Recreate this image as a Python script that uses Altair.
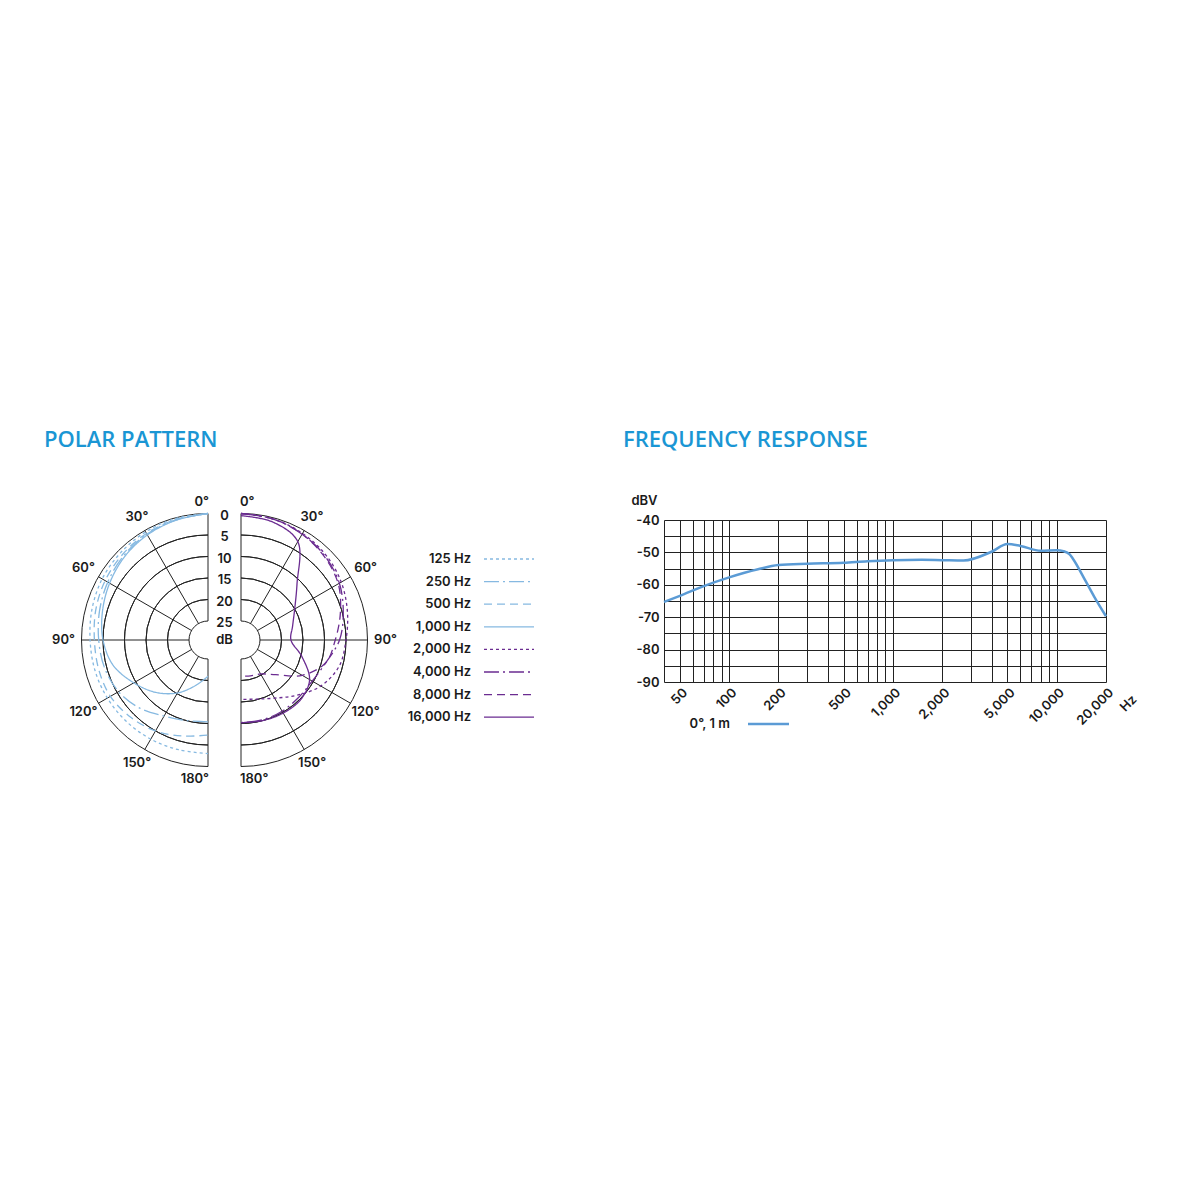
import altair as alt
import pandas as pd

# ---------------- data ----------------
POLAR_ANGLES = [0, 15, 30, 45, 60, 75, 90, 105, 120, 135, 150, 165, 180]

LOW_SERIES = ["125 Hz", "250 Hz", "500 Hz", "1,000 Hz"]
HIGH_SERIES = ["2,000 Hz", "4,000 Hz", "8,000 Hz", "16,000 Hz"]

# attenuation in dB (0 = outer ring) at POLAR_ANGLES
DB_125 = [0, 0.2, 0.4, 0.7, 1.0, 1.5, 2.0, 2.2, 2.4, 2.6, 2.8, 3.0, 3.0]
DB_250 = [0, 0.5, 1.0, 1.7, 2.5, 3.3, 4.0, 4.5, 5.4, 7.0, 9.0, 10.0, 10.4]
DB_500 = [0, 0.4, 0.8, 1.3, 1.8, 2.4, 3.0, 3.1, 3.2, 4.0, 5.0, 6.3, 7.3]
DB_1000 = [0, 0.6, 1.2, 2.0, 3.0, 4.0, 5.0, 6.6, 9.5, 12.2, 15.2, 18.5, 21.0]

DB_2000 = [0, 0.3, 0.8, 1.5, 2.5, 3.8, 5.0, 5.8, 8.0, 11.2, 13.8, 15.2, 15.6]
DB_4000 = [0, 0.3, 1.0, 1.8, 3.0, 4.8, 6.5, 9.0, 10.3, 10.5, 10.3, 10.2, 10.2]
DB_8000 = [0, 0.3, 1.0, 2.0, 3.3, 5.5, 7.5, 9.0, 13.0, 18.0, 20.3, 20.8, 21.0]
DB_16000 = [0.5, 1.0, 3.0, 11.0, 15.0, 17.0, 17.8, 14.8, 11.0, 9.8, 9.8, 10.0, 10.2]

RING_DB = [0, 5, 10, 15, 20, 25]
SPOKE_ANGLES = [30, 60, 90, 120, 150]
LABEL_ANGLES = [0, 30, 60, 90, 120, 150, 180]

FREQ_HZ = [40, 50, 70, 100, 150, 200, 300, 500, 700, 1000, 1500, 2000, 2700,
           4000, 5000, 6000, 8000, 10000, 11000, 12000, 12500, 15000, 17000, 20000]
FREQ_DBV = [-65.3, -63.4, -60.4, -57.7, -55.2, -53.9, -53.5, -53.2, -52.7, -52.4, -52.3, -52.4, -52.5,
            -49.8, -47.4, -48.0, -49.5, -49.3, -49.6, -50.6, -51.8, -58.8, -63.8, -69.7]
FREQ_SERIES = "0°, 1 m"

X_GRID = [40, 50, 60, 70, 80, 90, 100, 200, 300, 400, 500, 600, 700, 800, 900,
          1000, 2000, 3000, 4000, 5000, 6000, 7000, 8000, 9000, 10000, 20000]
X_LABELED = [50, 100, 200, 500, 1000, 2000, 5000, 10000, 20000]
Y_GRID = [-90, -85, -80, -75, -70, -65, -60, -55, -50, -45, -40]

# ---------------- style ----------------
FONT = "Inter"
TITLE_FONT = "Open Sans"
TXT = "#1a1a1a"
GRID = "#222222"
TITLE_BLUE = "#1a96d4"
LIGHT_BLUE = "#86b9e1"
PURPLE = "#6b2c91"
FR_BLUE = "#5b9bd5"
LABEL_WEIGHT = 600

ALL_SERIES = LOW_SERIES + HIGH_SERIES
COLOR_RANGE = [LIGHT_BLUE] * 4 + [PURPLE] * 4
DASH_RANGE = [[3, 3], [15, 4, 2, 4], [8, 5], [1, 0],
              [3, 3], [15, 4, 2, 4], [8, 5], [1, 0]]

# polar panel geometry (panel pixel units; panel top aligned with the frequency plot top)
W_P, H_P = 510, 272
CXL, CXR, CY = 167, 200, 120
R0, R25 = 126.5, 19.0
STEP = (R0 - R25) / 25.0
LEG_TX, LEG_L1, LEG_L2, LEG_Y0, LEG_DY = 430, 443, 493, 39, 22.6

XS = alt.Scale(domain=[0, W_P], nice=False, zero=False)
YS = alt.Scale(domain=[0, H_P], nice=False, zero=False, reverse=True)

SGN = "(datum.side == 'L' ? -1 : 1)"
CXE = f"(datum.side == 'L' ? {CXL} : {CXR})"
RAD = "(datum.angle * PI / 180)"

# ---------------- polar curves ----------------
rows = []
for name, vals, side in [
    ("125 Hz", DB_125, "L"), ("250 Hz", DB_250, "L"), ("500 Hz", DB_500, "L"), ("1,000 Hz", DB_1000, "L"),
    ("2,000 Hz", DB_2000, "R"), ("4,000 Hz", DB_4000, "R"), ("8,000 Hz", DB_8000, "R"), ("16,000 Hz", DB_16000, "R"),
]:
    for a, d in zip(POLAR_ANGLES, vals):
        rows.append({"series": name, "angle": a, "db": d, "side": side})
curve_df = pd.DataFrame(rows)

color_enc = alt.Color("series:N", scale=alt.Scale(domain=ALL_SERIES, range=COLOR_RANGE), legend=None)
dash_enc = alt.StrokeDash("series:N", scale=alt.Scale(domain=ALL_SERIES, range=DASH_RANGE), legend=None)

curves = alt.Chart(curve_df).mark_line(strokeWidth=1.3, interpolate="catmull-rom").transform_calculate(
    r=f"{R0} - datum.db * {STEP}"
).transform_calculate(
    px=f"{CXE} + {SGN} * sin({RAD}) * datum.r",
    py=f"{CY} - cos({RAD}) * datum.r",
).encode(
    x=alt.X("px:Q", scale=XS, axis=None),
    y=alt.Y("py:Q", scale=YS, axis=None),
    color=color_enc,
    strokeDash=dash_enc,
    order=alt.Order("angle:Q"),
)

# ---------------- grid rings ----------------
ring_df = pd.DataFrame([{"side": s, "db_o": d, "db_i": d} for s in "LR" for d in RING_DB[1:-1]]
                       + [{"side": s, "db_o": RING_DB[0], "db_i": RING_DB[-1]} for s in "LR"])
rings = alt.Chart(ring_df).mark_arc(filled=False, color=GRID, strokeWidth=1).transform_calculate(
    ro=f"{R0} - datum.db_o * {STEP}",
    ri=f"{R0} - datum.db_i * {STEP}",
    t1="datum.side == 'L' ? PI : 0",
    t2="datum.side == 'L' ? 2 * PI : PI",
    cxv=CXE,
    cyv=f"{CY}",
).encode(
    x=alt.X("cxv:Q", scale=XS, axis=None),
    y=alt.Y("cyv:Q", scale=YS, axis=None),
    theta=alt.Theta("t1:Q", scale=None),
    theta2=alt.Theta2("t2:Q"),
    radius=alt.Radius("ro:Q", scale=None),
    radius2=alt.Radius2("ri:Q"),
)

# ---------------- spokes ----------------
spoke_df = pd.DataFrame([{"side": s, "angle": a} for s in "LR" for a in SPOKE_ANGLES])
spokes = alt.Chart(spoke_df).mark_rule(color=GRID, strokeWidth=1).transform_calculate(
    sx1=f"{CXE} + {SGN} * sin({RAD}) * {R25}",
    sy1=f"{CY} - cos({RAD}) * {R25}",
    sx2=f"{CXE} + {SGN} * sin({RAD}) * {R0}",
    sy2=f"{CY} - cos({RAD}) * {R0}",
).encode(
    x=alt.X("sx1:Q", scale=XS, axis=None),
    y=alt.Y("sy1:Q", scale=YS, axis=None),
    x2="sx2:Q",
    y2="sy2:Q",
)

# ---------------- angle labels ----------------
lab_df = pd.DataFrame([{"side": s, "angle": a, "label": f"{a}°"} for s in "LR" for a in LABEL_ANGLES])
text_style = dict(font=FONT, fontSize=13, fontWeight=LABEL_WEIGHT, color=TXT)

mid_labels = alt.Chart(lab_df).transform_filter("datum.angle > 0 && datum.angle < 180").transform_calculate(
    d=f"{R0} + 13 + 5 * sin({RAD})"
).transform_calculate(
    lx=f"{CXE} + {SGN} * sin({RAD}) * datum.d",
    ly=f"{CY} - cos({RAD}) * datum.d",
).mark_text(align="center", baseline="middle", **text_style).encode(
    x=alt.X("lx:Q", scale=XS, axis=None), y=alt.Y("ly:Q", scale=YS, axis=None), text="label:N"
)

edge_calc = dict(
    lx=f"{CXE} + {SGN} * -1",
    ly=f"{CY} - cos({RAD}) * ({R0} + 12)",
)
edge_left = alt.Chart(lab_df).transform_filter(
    "(datum.angle == 0 || datum.angle == 180) && datum.side == 'L'"
).transform_calculate(**edge_calc).mark_text(align="right", baseline="middle", **text_style).encode(
    x=alt.X("lx:Q", scale=XS, axis=None), y=alt.Y("ly:Q", scale=YS, axis=None), text="label:N"
)
edge_right = alt.Chart(lab_df).transform_filter(
    "(datum.angle == 0 || datum.angle == 180) && datum.side == 'R'"
).transform_calculate(**edge_calc).mark_text(align="left", baseline="middle", **text_style).encode(
    x=alt.X("lx:Q", scale=XS, axis=None), y=alt.Y("ly:Q", scale=YS, axis=None), text="label:N"
)

# ---------------- dB scale labels ----------------
db_df = pd.DataFrame({"db": RING_DB, "label": [str(v) for v in RING_DB]})
db_labels = alt.Chart(db_df).transform_calculate(
    lx=f"{(CXL + CXR) / 2}",
    ly=f"{CY} - ({R0} - datum.db * {STEP}) + 2",
).mark_text(align="center", baseline="middle", **text_style).encode(
    x=alt.X("lx:Q", scale=XS, axis=None), y=alt.Y("ly:Q", scale=YS, axis=None), text="label:N"
)
db_unit = alt.Chart(pd.DataFrame({"label": ["dB"]})).transform_calculate(
    lx=f"{(CXL + CXR) / 2}", ly=f"{CY}"
).mark_text(align="center", baseline="middle", **text_style).encode(
    x=alt.X("lx:Q", scale=XS, axis=None), y=alt.Y("ly:Q", scale=YS, axis=None), text="label:N"
)

# ---------------- polar legend ----------------
leg_df = pd.DataFrame({"series": ALL_SERIES, "i": list(range(len(ALL_SERIES)))})
leg_base = alt.Chart(leg_df).transform_calculate(
    ly=f"{LEG_Y0} + datum.i * {LEG_DY}", tx=f"{LEG_TX}", lx1=f"{LEG_L1}", lx2=f"{LEG_L2}"
)
leg_text = leg_base.mark_text(align="right", baseline="middle", **text_style).encode(
    x=alt.X("tx:Q", scale=XS, axis=None), y=alt.Y("ly:Q", scale=YS, axis=None), text="series:N"
)
leg_lines = leg_base.mark_rule(strokeWidth=1.3).encode(
    x=alt.X("lx1:Q", scale=XS, axis=None), x2="lx2:Q",
    y=alt.Y("ly:Q", scale=YS, axis=None),
    color=color_enc, strokeDash=dash_enc,
)

polar = alt.layer(
    rings, spokes, curves, mid_labels, edge_left, edge_right, db_labels, db_unit, leg_text, leg_lines
).properties(
    width=W_P, height=H_P,
    title=alt.TitleParams("POLAR PATTERN", anchor="start", dx=3, offset=44),
)

# ---------------- frequency response ----------------
freq_df = pd.DataFrame({"hz": FREQ_HZ, "dbv": FREQ_DBV, "series": [FREQ_SERIES] * len(FREQ_HZ)})
x_label_expr = "indexof([" + ",".join(str(v) for v in X_LABELED) + "], datum.value) >= 0 ? format(datum.value, ',') : ''"

fx = alt.X("hz:Q", scale=alt.Scale(type="log", domain=[40, 20000], nice=False), axis=alt.Axis(
    values=X_GRID, labelExpr=x_label_expr, grid=True, ticks=False, domain=False,
    labelAngle=315, labelAlign="right", labelBaseline="middle", labelPadding=8, labelOffset=5,
    labelOverlap=False,
    title="Hz", titleAngle=315, titleX=464, titleY=21, titleAlign="center", titleBaseline="middle",
))
fy = alt.Y("dbv:Q", scale=alt.Scale(domain=[-90, -40], nice=False, zero=False), axis=alt.Axis(
    values=Y_GRID, labelExpr="datum.value % 10 == 0 ? '-' + abs(datum.value) : ''", grid=True, ticks=False,
    domain=False, labelPadding=5, labelOverlap=False,
    title="dBV", titleAngle=0, titleX=-20, titleY=-20, titleAlign="center", titleBaseline="middle",
))

fr_line = alt.Chart(freq_df).mark_line(color=FR_BLUE, strokeWidth=2.5, interpolate="monotone").encode(
    x=fx, y=fy
)
fr_leg_text = alt.Chart(pd.DataFrame({"series": [FREQ_SERIES]})).mark_text(
    align="right", baseline="middle", **text_style
).encode(x=alt.value(66), y=alt.value(204), text="series:N")
fr_leg_line = alt.Chart(pd.DataFrame({"series": [FREQ_SERIES]})).mark_rule(
    color=FR_BLUE, strokeWidth=2.5
).encode(x=alt.value(84), x2=alt.value(125), y=alt.value(204))

freq = alt.layer(fr_line, fr_leg_text, fr_leg_line).properties(
    width=442, height=162,
    title=alt.TitleParams("FREQUENCY RESPONSE", anchor="start", dx=-8, offset=42),
)

chart = alt.hconcat(polar, freq, spacing=70).properties(
    padding={"left": 32, "top": 420, "right": 0, "bottom": 0}
).configure_view(
    stroke="transparent"
).configure_axis(
    labelFont=FONT, labelFontSize=13, labelFontWeight=LABEL_WEIGHT, labelColor=TXT,
    titleFont=FONT, titleFontSize=13, titleFontWeight=LABEL_WEIGHT, titleColor=TXT,
    gridColor=GRID, gridWidth=1, gridOpacity=1,
).configure_title(
    font=TITLE_FONT, fontSize=22, fontWeight=600, color=TITLE_BLUE, anchor="start"
)

chart.save("out.html", embed_options={"renderer": "svg", "actions": False})
